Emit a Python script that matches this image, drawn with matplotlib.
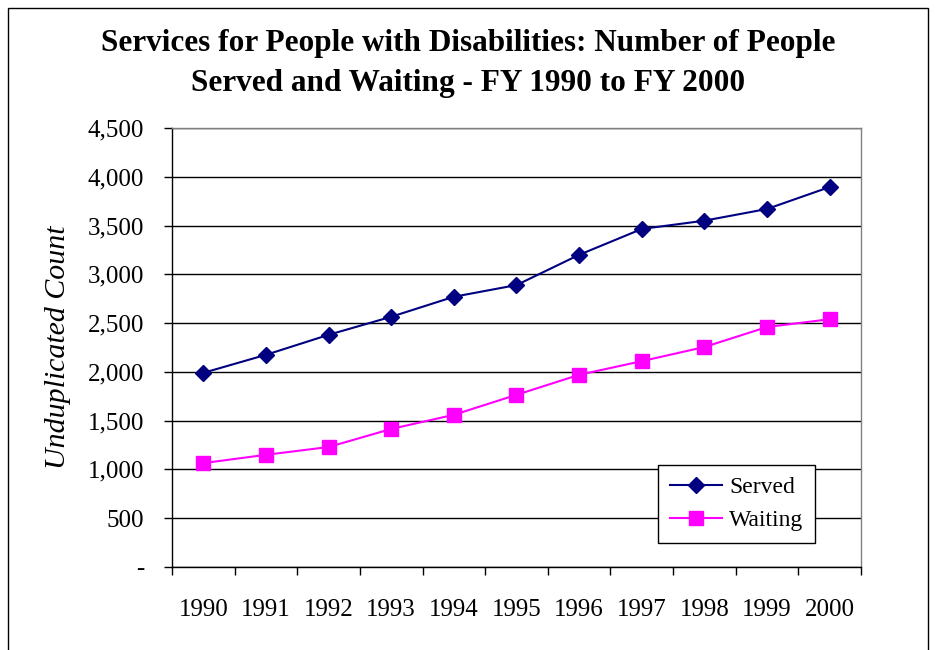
import matplotlib.pyplot as plt
from matplotlib.patches import Rectangle
from matplotlib.ticker import FuncFormatter, MultipleLocator
import numpy as np

years = ["1990", "1991", "1992", "1993", "1994", "1995", "1996", "1997", "1998", "1999", "2000"]
served = [1990, 2175, 2380, 2565, 2770, 2890, 3200, 3465, 3550, 3670, 3895]
waiting = [1065, 1150, 1230, 1415, 1560, 1765, 1970, 2110, 2255, 2460, 2540]

plt.rcParams["font.family"] = ["Liberation Serif", "DejaVu Serif"]

fig = plt.figure(figsize=(9.37, 6.5), dpi=100)
W, H = 937, 650
ax = fig.add_axes([172 / W, 1 - 567 / H, (861 - 172) / W, (567 - 128) / H])

x = np.arange(len(years))
ax.plot(x, served, color="#000080", marker="D", markersize=8, linewidth=1.5, label="Served")
ax.plot(x, waiting, color="#FF00FF", marker="s", markersize=10, linewidth=1.5, label="Waiting")

ax.set_xlim(-0.5, len(years) - 0.5)
ax.set_ylim(0, 4500)
ax.yaxis.set_major_locator(MultipleLocator(500))
ax.yaxis.set_major_formatter(FuncFormatter(lambda v, p: "-" if v == 0 else f"{int(v):,}"))
ax.grid(axis="y", color="black", linewidth=1)
ax.set_axisbelow(True)

ax.set_xticks(x)
ax.set_xticklabels(years)
ax.set_xticks(np.arange(len(years) + 1) - 0.5, minor=True)
ax.tick_params(axis="x", which="major", length=0, pad=23, labelsize=18)
ax.tick_params(axis="x", which="minor", length=6, width=1, direction="out")
ax.tick_params(axis="y", length=6, width=1, direction="out", pad=14, labelsize=18)

for s in ax.spines.values():
    s.set_color("black")
    s.set_linewidth(1)
ax.spines["right"].set_color("#808080")
ax.spines["top"].set_color("#808080")

ax.set_ylabel("Unduplicated Count", fontsize=21.5, style="italic", labelpad=12)

fig.text(0.5, 1 - 40 / H, "Services for People with Disabilities: Number of People",
         ha="center", va="center", fontsize=22.5, fontweight="bold")
fig.text(0.5, 1 - 80 / H, "Served and Waiting - FY 1990 to FY 2000",
         ha="center", va="center", fontsize=22.5, fontweight="bold")
for t in fig.texts:
    t.set_y(t.get_position()[1] - 4 / H)

leg = ax.legend(loc="lower right", bbox_to_anchor=(643 / 689, 24 / 439), fontsize=17,
                frameon=True, fancybox=False, edgecolor="black", framealpha=1,
                handlelength=2.2, handletextpad=0.3, borderpad=0.5, labelspacing=0.5,
                borderaxespad=0)
leg.get_frame().set_linewidth(1)

fig.add_artist(Rectangle((8 / W, -0.02), (928 - 8) / W, 1 - 8 / H + 0.02,
                         transform=fig.transFigure, fill=False, edgecolor="black", linewidth=1))

fig.savefig("out.png", dpi=100)
